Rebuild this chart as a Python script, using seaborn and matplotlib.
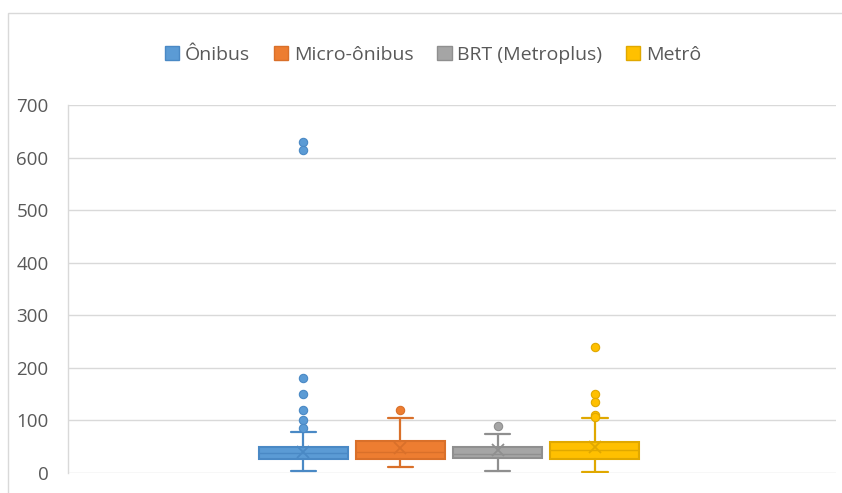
import matplotlib
matplotlib.use("Agg")
import matplotlib.pyplot as plt
import seaborn as sns
import pandas as pd
from matplotlib.patches import Patch, Rectangle

sns.set_theme(style="white")
plt.rcParams['font.family'] = ['Open Sans', 'DejaVu Sans']

series = ["Ônibus", "Micro-ônibus", "BRT (Metroplus)", "Metrô"]
colors = ["#5B9BD5", "#ED7D31", "#A5A5A5", "#FFC000"]
edges = ["#4A89C5", "#D9702A", "#8F8F8F", "#E0A800"]

q1 = [27, 26, 28, 27]
median = [38, 40, 36, 44]
q3 = [50, 60, 50, 59]
whislo = [4, 11, 4, 1]
whishi = [78, 105, 74, 105]
means = [39, 47, 43, 49]
outliers = [
    [630, 615, 180, 150, 120, 101, 86],
    [120],
    [89],
    [240, 150, 135, 110, 107],
]
yticks = [0, 100, 200, 300, 400, 500, 600, 700]

fig = plt.figure(figsize=(8.42, 4.93), dpi=100)
ax = fig.add_axes([68/842, 20/493, 768/842, 368/493])

for i in range(4):
    st = dict(label=series[i], q1=q1[i], med=median[i], q3=q3[i],
              whislo=whislo[i], whishi=whishi[i], mean=means[i], fliers=[])
    ax.bxp([st], positions=[i], widths=0.915, patch_artist=True,
           showfliers=False, showmeans=False, manage_ticks=False,
           boxprops=dict(facecolor=colors[i], edgecolor=edges[i], linewidth=1.5),
           medianprops=dict(color=edges[i], linewidth=1.0),
           whiskerprops=dict(color=edges[i], linewidth=1.6),
           capprops=dict(color=edges[i], linewidth=1.6),
           capwidths=0.26, zorder=3)

# outliers
rows = []
for i in range(4):
    for v in outliers[i]:
        rows.append(dict(pos=i, val=v, s=series[i]))
df_out = pd.DataFrame(rows)
for i in range(4):
    sns.scatterplot(data=df_out[df_out.pos == i], x="pos", y="val", s=36,
                    color=colors[i], edgecolor=edges[i], linewidth=0.8,
                    legend=False, ax=ax, zorder=5)

# means
for i in range(4):
    ax.plot([i], [means[i]], marker="x", markersize=9, markeredgewidth=1.3,
            color=edges[i], zorder=6, linestyle="none")

ax.set_xlim(-2.42, 5.48)
ax.set_ylim(0, 700)
ax.set_yticks(yticks)
ax.set_yticklabels([str(t) for t in yticks])
ax.set_xticks([])
ax.yaxis.grid(True, color="#D9D9D9", linewidth=1.0)
ax.set_axisbelow(True)
for s in ["top", "right", "bottom"]:
    ax.spines[s].set_visible(False)
ax.spines["left"].set_color("#D9D9D9")
ax.spines["left"].set_linewidth(1.0)
ax.tick_params(axis="y", length=0, pad=14, labelsize=13.5, labelcolor="#595959")
ax.set_ylabel("")
ax.set_xlabel("")

handles = [Patch(facecolor=colors[i], edgecolor=edges[i], linewidth=1.0, label=series[i]) for i in range(4)]
fig.legend(handles=handles, loc="center", bbox_to_anchor=(433/842, 1 - 55/493), ncol=4,
           frameon=False, fontsize=14, labelcolor="#595959", handlelength=0.75, handleheight=0.75,
           handletextpad=0.3, columnspacing=1.2)

fig.patches.append(Rectangle((8/842, -0.1), 1.2, 1 - 13/493 + 0.1, transform=fig.transFigure,
                             fill=False, edgecolor="#D9D9D9", linewidth=1.0))

fig.savefig("out.png", dpi=100)
